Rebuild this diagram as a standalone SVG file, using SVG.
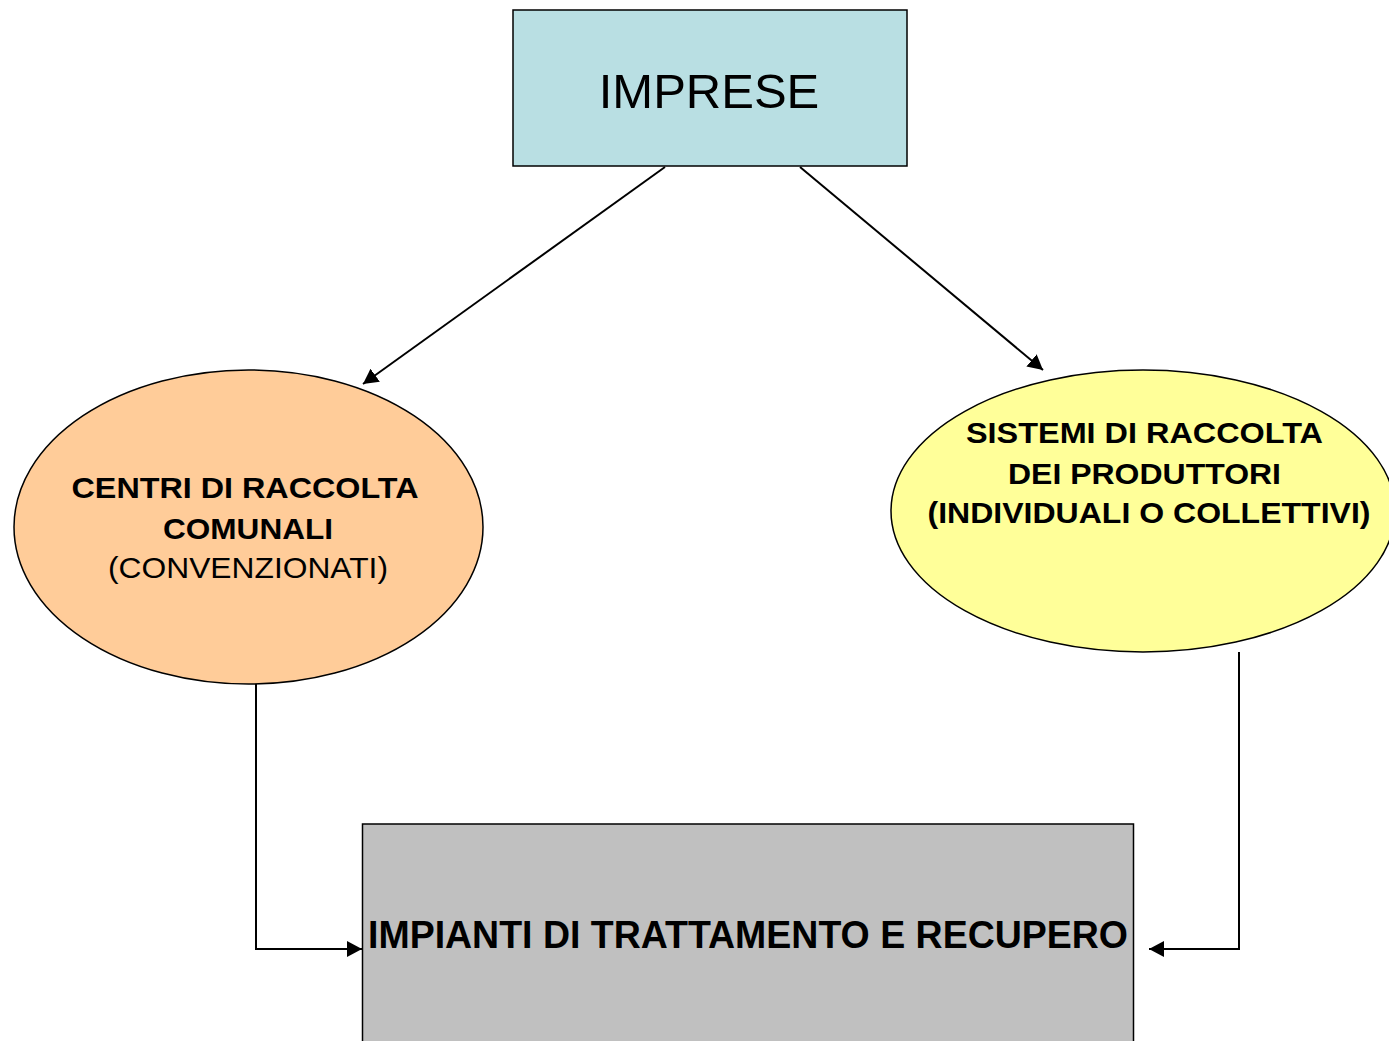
<svg xmlns="http://www.w3.org/2000/svg" width="1389" height="1041" viewBox="0 0 1389 1041">
<style>
.box{stroke:#000;stroke-width:1.5}
.lbl{font-family:"Liberation Sans",Arial,sans-serif;fill:#000;text-anchor:middle}
.b{font-weight:bold}
.con{fill:none;stroke:#000;stroke-width:2}
</style>
<defs>
<marker id="ah" markerWidth="16" markerHeight="16" refX="15" refY="8" orient="auto" markerUnits="userSpaceOnUse">
<path d="M0,0 L15,8 L0,16 Z" fill="#000"/>
</marker>
</defs>
<rect width="1389" height="1041" fill="#fff"/>
<g id="imprese">
<rect class="box" x="513" y="10" width="394" height="156" fill="#b9dfe3"/>
<text class="lbl" x="709" y="108" font-size="49">IMPRESE</text>
</g>
<g id="centri">
<ellipse class="box" cx="248.5" cy="527" rx="234.5" ry="157" fill="#ffcc99"/>
<text class="lbl b" x="245" y="498" font-size="30" textLength="347" lengthAdjust="spacingAndGlyphs">CENTRI DI RACCOLTA</text>
<text class="lbl b" x="248" y="539" font-size="30" textLength="170" lengthAdjust="spacingAndGlyphs">COMUNALI</text>
<text class="lbl" x="248" y="578" font-size="30" textLength="280" lengthAdjust="spacingAndGlyphs">(CONVENZIONATI)</text>
</g>
<g id="sistemi">
<ellipse class="box" cx="1143" cy="511" rx="252" ry="141" fill="#ffff99"/>
<text class="lbl b" x="1144.5" y="443" font-size="30" textLength="357" lengthAdjust="spacingAndGlyphs">SISTEMI DI RACCOLTA</text>
<text class="lbl b" x="1144.5" y="484" font-size="30" textLength="273" lengthAdjust="spacingAndGlyphs">DEI PRODUTTORI</text>
<text class="lbl b" x="1149" y="523" font-size="30" textLength="443" lengthAdjust="spacingAndGlyphs">(INDIVIDUALI O COLLETTIVI)</text>
</g>
<g id="impianti">
<rect class="box" x="362.5" y="824" width="771" height="230" fill="#c0c0c0"/>
<text class="lbl b" x="748" y="948" font-size="38" textLength="760" lengthAdjust="spacingAndGlyphs">IMPIANTI DI TRATTAMENTO E RECUPERO</text>
</g>
<g id="connectors">
<line class="con" x1="665" y1="167" x2="363" y2="384" marker-end="url(#ah)"/>
<line class="con" x1="800" y1="167" x2="1043" y2="370" marker-end="url(#ah)"/>
<polyline class="con" points="256,684 256,949 362,949" marker-end="url(#ah)"/>
<polyline class="con" points="1239,652 1239,949 1149,949" marker-end="url(#ah)"/>
</g>
</svg>
